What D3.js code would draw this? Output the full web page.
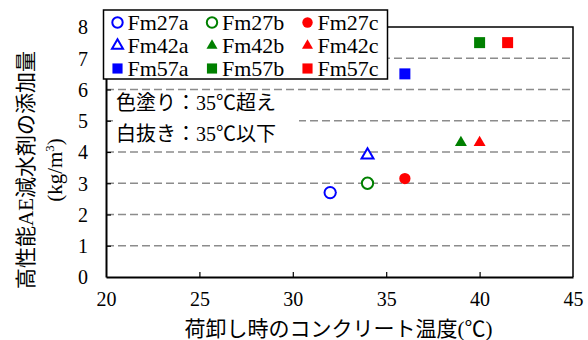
<!DOCTYPE html>
<html>
<head>
<meta charset="utf-8">
<script src="https://cdn.jsdelivr.net/npm/d3@7"></script>
<style>
  html, body { margin: 0; padding: 0; background: #fff; }
  svg { display: block; }
  text { font-family: "Liberation Serif", "Noto Sans CJK JP", serif; fill: #000; }
</style>
</head>
<body>
<svg id="chart" width="588" height="340"></svg>
<script>
// Series: temperature at unloading (°C) vs. superplasticizer dosage (kg/m3)
const seriesNames = ["Fm27a", "Fm27b", "Fm27c", "Fm42a", "Fm42b", "Fm42c", "Fm57a", "Fm57b", "Fm57c"];
const tempValues  = [32.0, 34.0, 36.0, 34.0, 39.0, 40.0, 36.0, 40.0, 41.5];
const doseValues  = [2.7, 3.0, 3.15, 3.9, 4.3, 4.3, 6.5, 7.5, 7.5];
const seriesColors = ["#0000ff", "#008000", "#ff0000", "#0000ff", "#008000", "#ff0000", "#0000ff", "#008000", "#ff0000"];
const seriesShapes = ["circle", "circle", "circle", "triangle", "triangle", "triangle", "square", "square", "square"];
const seriesFilled = [false, false, true, false, true, true, true, true, true];

const xTicks = [20, 25, 30, 35, 40, 45];
const yTicks = [0, 1, 2, 3, 4, 5, 6, 7, 8];
const xTitle = "荷卸し時のコンクリート温度(℃)";
const yTitle1 = "高性能AE減水剤の添加量";
const yTitle2 = "(kg/m";
const noteLines = ["色塗り：35℃超え", "白抜き：35℃以下"];

const serif = '"Liberation Serif", "Noto Sans CJK JP", serif';

const svg = d3.select("#chart");
const plot = { left: 106, right: 573, top: 27, bottom: 277 };

const x = d3.scaleLinear().domain([20, 45]).range([plot.left, plot.right]);
const y = d3.scaleLinear().domain([0, 8]).range([plot.bottom, plot.top]);

const symbolType = { circle: d3.symbolCircle, triangle: d3.symbolTriangle, square: d3.symbolSquare };
const symbolSize = { circle: 100, triangle: 62, square: 121 };
const symbolPath = (s, k = 1) => d3.symbol().type(symbolType[s]).size(symbolSize[s] * k)();

// Dashed horizontal gridlines
svg.append("g")
  .selectAll("line")
  .data(yTicks.filter(v => v > 0 && v < 8))
  .join("line")
  .attr("x1", plot.left).attr("x2", plot.right)
  .attr("y1", d => y(d)).attr("y2", d => y(d))
  .attr("stroke", "#8c8c8c")
  .attr("stroke-width", 1.6)
  .attr("stroke-dasharray", "8,4");

// Note box with white background
const noteG = svg.append("g");
noteG.append("rect")
  .attr("x", 113).attr("y", 93).attr("width", 186).attr("height", 55)
  .attr("fill", "#fff");
noteG.selectAll("text")
  .data(noteLines)
  .join("text")
  .attr("x", 116)
  .attr("y", (d, i) => 110 + i * 31)
  .style("font-size", "20px")
  .text(d => d);

// Top and right frame
svg.append("path")
  .attr("d", `M${plot.left},${plot.top}H${plot.right}V${plot.bottom}`)
  .attr("fill", "none").attr("stroke", "#000").attr("stroke-width", 1.5);

// Axes with inner ticks
const xAxis = d3.axisBottom(x).tickValues(xTicks).tickSizeInner(-5).tickSizeOuter(0).tickPadding(15);
const yAxis = d3.axisLeft(y).tickValues(yTicks).tickSizeInner(-5).tickSizeOuter(0).tickPadding(18);

const gx = svg.append("g").attr("transform", `translate(0,${plot.bottom})`).call(xAxis);
const gy = svg.append("g").attr("transform", `translate(${plot.left},0)`).call(yAxis);
[gx, gy].forEach(g => {
  g.select(".domain").attr("stroke", "#000").attr("stroke-width", 2);
  g.selectAll(".tick line").attr("stroke", "#000").attr("stroke-width", 1.2);
  g.selectAll(".tick text")
    .style("font-family", serif)
    .style("font-size", "20px")
    .style("fill", "#000");
});
gx.selectAll(".tick line").filter(d => d === 20 || d === 45).remove();
gy.selectAll(".tick line").filter(d => d === 0 || d === 8).remove();
gy.selectAll(".tick text").attr("dy", "0.34em");

// Data points
svg.append("g")
  .selectAll("path")
  .data(seriesNames.map((n, i) => i))
  .join("path")
  .attr("transform", i => `translate(${x(tempValues[i])},${y(doseValues[i])})`)
  .attr("d", i => symbolPath(seriesShapes[i]))
  .attr("fill", i => seriesFilled[i] ? seriesColors[i] : "#fff")
  .attr("stroke", i => seriesFilled[i] ? "none" : seriesColors[i])
  .attr("stroke-width", 2);

// Axis titles
svg.append("text")
  .attr("x", plot.left + (plot.right - plot.left) / 2 - 1)
  .attr("y", 336)
  .attr("text-anchor", "middle")
  .style("font-size", "21px")
  .text(xTitle);

const yTitle = svg.append("g").attr("transform", "translate(0,170) rotate(-90)");
yTitle.append("text")
  .attr("x", 0).attr("y", 33)
  .attr("text-anchor", "middle")
  .style("font-size", "21px")
  .text(yTitle1);
const t2 = yTitle.append("text")
  .attr("x", 0).attr("y", 62)
  .attr("text-anchor", "middle")
  .style("font-size", "21px");
t2.append("tspan").text(yTitle2);
t2.append("tspan").style("font-size", "13px").attr("dy", -8).text("3");
t2.append("tspan").attr("dy", 8).text(")");

// Legend
const legend = svg.append("g");
legend.append("rect")
  .attr("x", 103.5).attr("y", 10).attr("width", 284).attr("height", 69)
  .attr("fill", "#fff").attr("stroke", "#000").attr("stroke-width", 1.5);
const colX = [117.5, 212, 307.5];
const rowY = [22.5, 45.5, 68.5];
const items = legend.selectAll("g.item")
  .data(seriesNames.map((n, i) => i))
  .join("g")
  .attr("class", "item")
  .attr("transform", i => `translate(${colX[i % 3]},${rowY[Math.floor(i / 3)]})`);
items.append("path")
  .attr("d", i => symbolPath(seriesShapes[i], 0.85))
  .attr("fill", i => seriesFilled[i] ? seriesColors[i] : "#fff")
  .attr("stroke", i => seriesFilled[i] ? "none" : seriesColors[i])
  .attr("stroke-width", 2);
items.append("text")
  .attr("x", 10)
  .attr("dy", "0.34em")
  .style("font-size", "22px")
  .text(i => seriesNames[i]);
</script>
</body>
</html>
